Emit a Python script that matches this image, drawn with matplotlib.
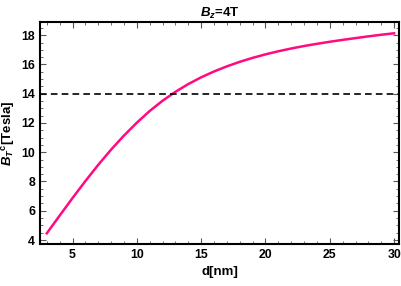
import matplotlib
matplotlib.use("Agg")
import matplotlib.pyplot as plt
import numpy as np
from matplotlib.ticker import MultipleLocator

# values
d_nm = [3, 4, 5, 6, 7, 8, 9, 10, 11, 12, 13, 14, 15, 16, 17, 18, 19, 20,
        21, 22, 23, 24, 25, 26, 27, 28, 29, 30]
bt_c = [4.46, 5.67, 6.87, 8.03, 9.14, 10.18, 11.14, 12.02, 12.82, 13.52,
        14.13, 14.66, 15.12, 15.52, 15.87, 16.18, 16.45, 16.69, 16.90, 17.09,
        17.26, 17.41, 17.55, 17.68, 17.80, 17.92, 18.03, 18.13]
b_ref = 14

plt.rcParams['font.family'] = ['Liberation Sans', 'DejaVu Sans']
plt.rcParams['font.weight'] = 'bold'
plt.rcParams['mathtext.fontset'] = 'custom'
plt.rcParams['mathtext.rm'] = 'Liberation Sans:bold'
plt.rcParams['mathtext.it'] = 'Liberation Sans:italic:bold'
plt.rcParams['mathtext.bf'] = 'Liberation Sans:bold'

fig = plt.figure(figsize=(4.02, 2.86), dpi=100)
ax = fig.add_axes([0.0995, 0.147, 0.893, 0.776])

ax.plot(d_nm, bt_c, color='#ff0a80', linewidth=1.8, solid_joinstyle='round')
ax.axhline(b_ref, color='black', linestyle=(0, (4, 2.5)), linewidth=1.2)

ax.set_xlim(2.47, 30.38)
ax.set_ylim(3.73, 18.9)
ax.xaxis.set_major_locator(MultipleLocator(5))
ax.xaxis.set_minor_locator(MultipleLocator(1))
ax.yaxis.set_major_locator(MultipleLocator(2))
ax.yaxis.set_minor_locator(MultipleLocator(0.5))
ax.tick_params(which='both', direction='in', top=True, right=True,
               labelsize=8.8, color='#555555')
ax.tick_params(which='major', length=4, width=0.8)
ax.tick_params(which='minor', length=2, width=0.6)
for s in ax.spines.values():
    s.set_linewidth(1.5)

ax.set_xlabel('d[nm]', fontsize=9.5, fontweight='bold', labelpad=4)
ax.set_ylabel(r'$B_T{}^{\mathrm{c}}$[Tesla]', fontsize=9.5, fontweight='bold', labelpad=3)
ax.set_title(r'$B_z$=4T', fontsize=9.5, fontweight='bold', pad=4)

fig.savefig('out.png', dpi=100)
